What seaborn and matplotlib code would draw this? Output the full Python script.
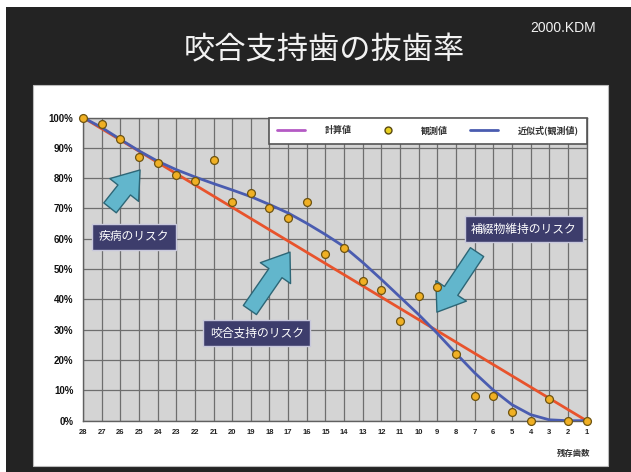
import matplotlib
matplotlib.use("Agg")
import matplotlib.pyplot as plt
from matplotlib.patches import Rectangle
from matplotlib.lines import Line2D
import seaborn as sns

# remaining teeth (x axis runs 28 -> 1)
teeth = list(range(28, 0, -1))
tick_labels = [str(t) for t in teeth]

observed = [100, 98, 93, 87, 85, 81, 79, 86, 72, 75, 70, 67, 72, 55,
            57, 46, 43, 33, 41, 44, 22, 8, 8, 3, 0, 7, 0, 0]

# fitted curve of the observations (%)
fitted = [100, 96.7, 92.8, 89.0, 85.6, 82.8, 80.4, 78.2, 76.1, 73.9,
          71.3, 68.5, 65.1, 61.4, 57.4, 52.2, 46.6, 40.8, 35.0, 28.8,
          22.2, 15.8, 10.1, 5.3, 2.0, 0.3, 0, 0]

# calculated values (straight line between the end points)
calc_x = [28, 1]
calc_y = [100, 0]

y_ticks = [0, 10, 20, 30, 40, 50, 60, 70, 80, 90, 100]
y_labels = [f"{v}%" for v in y_ticks]

sns.set_theme(style="white")
plt.rcParams['font.family'] = ['Noto Sans CJK JP', 'DejaVu Sans']

fig = plt.figure(figsize=(6.31, 4.72), dpi=100, facecolor="#232323")

# white page edges and white chart panel
fig.patches.append(Rectangle((0, 1 - 7 / 472), 1, 7 / 472, transform=fig.transFigure,
                             fc="white", ec="none", zorder=-5))
fig.patches.append(Rectangle((0, 0), 6 / 631, 1, transform=fig.transFigure,
                             fc="white", ec="none", zorder=-5))
fig.patches.append(Rectangle((33 / 631, 6 / 472), 575 / 631, 381 / 472,
                             transform=fig.transFigure, fc="white", ec="#bbbbbb",
                             lw=0.8, zorder=-4))

ax = fig.add_axes([83 / 631, 1 - 420.7 / 472, 503.5 / 631, 303.2 / 472])
ax.set_facecolor("#d4d4d4")

sns.lineplot(x=calc_x, y=calc_y, ax=ax, color="#e8532c", lw=2, zorder=3)
sns.lineplot(x=teeth, y=fitted, ax=ax, color="#4a5cb0", lw=2, zorder=4)
sns.scatterplot(x=teeth, y=observed, ax=ax, s=32, color="#f0b024",
                edgecolor="#6e5410", linewidth=0.9, zorder=6, clip_on=False)

ax.set_xlim(28, 1)
ax.set_ylim(0, 100)
ax.set_xticks(teeth)
ax.set_xticklabels(tick_labels, fontsize=5.5, fontweight="bold",
                   family="Liberation Sans", color="#222222")
ax.set_yticks(y_ticks)
ax.set_yticklabels(y_labels, fontsize=7, fontweight="bold",
                   family="Liberation Sans", color="#111111")
ax.tick_params(axis="both", length=0)
ax.tick_params(axis="x", pad=6)
ax.tick_params(axis="y", pad=7)
ax.set_xlabel("")
ax.set_ylabel("")
ax.grid(True, color="#6e6e6e", lw=0.9)
ax.set_axisbelow(True)
for sp in ax.spines.values():
    sp.set_color("#606060")
    sp.set_linewidth(1)

# legend
handles = [
    Line2D([], [], color="#b45ac4", lw=2),
    Line2D([], [], ls="none", marker="o", ms=5, mfc="#e8d020", mec="#5a4a10"),
    Line2D([], [], color="#4a5cb0", lw=2),
]
leg = ax.legend(handles, ["計算値", "観測値", "近似式(観測値)"], ncol=3,
                loc="upper right", bbox_to_anchor=(1.0, 1.0), frameon=True,
                fancybox=False, fontsize=6.5, handlelength=3.1,
                handletextpad=2.1, columnspacing=2.5, borderpad=0.9,
                borderaxespad=0)
leg.get_frame().set_edgecolor("#555555")
leg.get_frame().set_linewidth(1.2)
leg.get_frame().set_facecolor("white")
leg.get_frame().set_alpha(1)
leg.set_zorder(8)
for t in leg.get_texts():
    t.set_fontweight("bold")
    t.set_color("#333333")

# arrows
arrow_style = "simple,head_length=0.8,head_width=1.15,tail_width=0.5"
arrows = [((26.55, 70.2), (24.94, 82.7)),
          ((19.05, 36.5), (16.9, 55.6)),
          ((6.87, 55.6), (9.02, 35.8))]
for tail, head in arrows:
    ax.annotate("", xy=head, xytext=tail,
                arrowprops=dict(arrowstyle=arrow_style, fc="#62b6cc",
                                ec="#2d6676", lw=1, mutation_scale=23,
                                shrinkA=0, shrinkB=0), zorder=5)

box = dict(boxstyle="square,pad=0.55", fc="#3d3d6c", ec="#c8c8dc", lw=1)
ax.text(25.27, 60.6, "疾病のリスク", fontsize=8.5, color="white",
        ha="center", va="center", bbox=box, zorder=7)
ax.text(18.67, 28.9, "咬合支持のリスク", fontsize=8.5, color="white",
        ha="center", va="center", bbox=box, zorder=7)
ax.text(4.35, 63.2, "補綴物維持のリスク", fontsize=8.5, color="white",
        ha="center", va="center", bbox=box, zorder=7)

# titles
fig.text(324 / 631, 1 - 50 / 472, "咬合支持歯の抜歯率", fontsize=22.5,
         color="#f2f2f2", ha="center", va="center")
fig.text(563 / 631, 1 - 28 / 472, "2000.KDM", fontsize=10,
         family="Liberation Sans", color="#f2f2f2", ha="center", va="center")
fig.text(574 / 631, 1 - 453 / 472, "残存歯数", fontsize=6, fontweight="bold",
         color="#333333", ha="center", va="center")

fig.savefig("out.png", dpi=100, facecolor=fig.get_facecolor())
